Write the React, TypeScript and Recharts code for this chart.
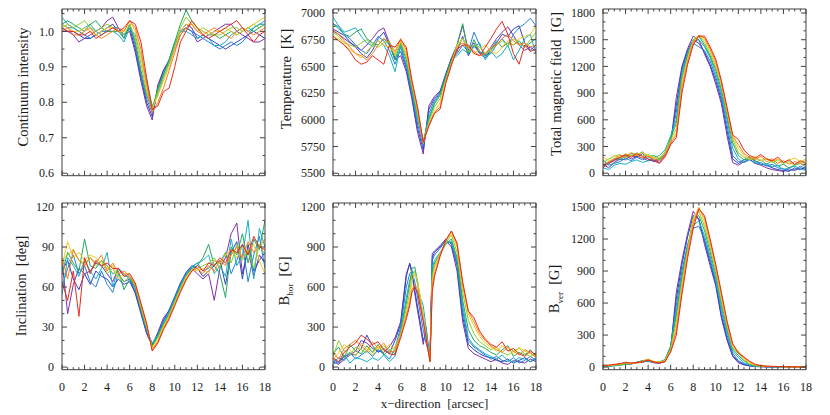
import React from 'react';
import { LineChart, Line, XAxis, YAxis } from 'recharts';

// x positions along the slit [arcsec]
const xGrid = [0, 0.5, 1, 1.5, 2, 2.5, 3, 3.5, 4, 4.5, 5, 5.5, 6, 6.5, 7, 7.5, 8, 8.5, 9, 9.5, 10, 10.5, 11, 11.5, 12, 12.5, 13, 13.5, 14, 14.5, 15, 15.5, 16, 16.5, 17, 17.5, 18];
const xGridHor = [0, 0.5, 1, 1.5, 2, 2.5, 3, 3.5, 4, 4.5, 5, 5.5, 6, 6.5, 6.8, 7, 7.25, 7.5, 7.75, 8, 8.25, 8.6, 8.8, 9, 9.5, 10, 10.5, 11, 11.5, 12, 12.5, 13, 13.5, 14, 14.5, 15, 15.5, 16, 16.5, 17, 17.5, 18];

const seriesColors = ['#7b2fa8', '#2f3fbf', '#1f7fd6', '#18afc4', '#22a85a', '#8ccf2c', '#f0c81e', '#ff7c1a', '#e52a1c'];

const contInt = [
  [1.00, 1.00, 0.99, 0.97, 0.98, 0.99, 1.00, 1.01, 1.03, 1.04, 1.01, 0.99, 1.00, 0.94, 0.86, 0.79, 0.75, 0.85, 0.89, 0.91, 0.95, 0.99, 1.01, 1.00, 0.97, 0.98, 0.99, 1.00, 1.01, 1.02, 1.02, 1.00, 0.99, 0.98, 0.97, 0.97, 0.98],
  [1.01, 1.00, 1.00, 0.99, 0.98, 0.98, 0.99, 1.00, 1.01, 1.02, 1.00, 0.99, 1.01, 0.95, 0.87, 0.80, 0.76, 0.84, 0.89, 0.92, 0.96, 1.00, 1.02, 1.01, 0.98, 0.99, 0.98, 0.97, 0.96, 0.95, 0.96, 0.97, 0.98, 0.99, 1.00, 0.99, 0.98],
  [1.02, 1.01, 1.01, 1.00, 0.99, 0.98, 0.99, 1.00, 1.00, 1.01, 1.01, 0.98, 1.02, 0.96, 0.88, 0.81, 0.77, 0.83, 0.88, 0.92, 0.97, 1.00, 1.01, 1.00, 0.99, 0.98, 0.97, 0.96, 0.95, 0.96, 0.97, 0.96, 0.97, 0.99, 1.01, 1.02, 1.02],
  [1.04, 1.02, 1.01, 1.00, 1.01, 1.02, 1.00, 0.99, 1.00, 1.00, 0.99, 0.97, 1.01, 0.99, 0.93, 0.86, 0.79, 0.82, 0.87, 0.91, 0.96, 1.00, 1.00, 0.99, 0.98, 0.99, 0.98, 0.96, 0.96, 0.97, 0.99, 1.00, 1.01, 1.00, 1.01, 1.02, 1.03],
  [1.02, 1.03, 1.02, 1.01, 1.00, 1.02, 1.03, 1.01, 1.00, 1.00, 1.00, 0.98, 1.02, 0.97, 0.89, 0.82, 0.78, 0.84, 0.88, 0.92, 0.97, 1.02, 1.06, 1.03, 1.01, 1.00, 0.99, 0.99, 0.98, 0.99, 1.00, 0.99, 1.00, 1.01, 1.00, 1.01, 1.02],
  [1.01, 1.02, 1.01, 1.02, 1.03, 1.01, 1.00, 1.01, 1.02, 1.01, 1.00, 0.99, 1.02, 0.98, 0.91, 0.83, 0.78, 0.83, 0.87, 0.91, 0.96, 1.01, 1.04, 1.02, 1.00, 1.01, 1.00, 0.99, 0.99, 1.00, 1.01, 1.01, 1.00, 1.01, 1.02, 1.01, 1.02],
  [1.02, 1.01, 1.00, 1.00, 1.01, 1.00, 0.99, 1.00, 1.01, 1.01, 1.00, 1.00, 1.03, 1.00, 0.93, 0.84, 0.78, 0.82, 0.86, 0.90, 0.95, 1.00, 1.02, 1.02, 1.01, 1.00, 0.99, 1.00, 1.00, 1.01, 1.00, 0.99, 1.00, 1.01, 1.02, 1.03, 1.04],
  [1.00, 1.01, 0.99, 0.99, 1.00, 1.01, 0.99, 0.98, 0.99, 1.00, 1.01, 1.00, 1.03, 1.01, 0.95, 0.85, 0.77, 0.80, 0.84, 0.89, 0.94, 0.99, 1.01, 1.02, 1.00, 0.99, 1.00, 1.01, 1.00, 0.99, 0.98, 1.00, 1.01, 1.00, 0.99, 1.00, 1.01],
  [1.01, 1.00, 1.00, 0.99, 0.99, 1.00, 0.98, 0.99, 1.00, 1.01, 1.00, 1.01, 1.03, 1.02, 0.97, 0.87, 0.78, 0.79, 0.83, 0.84, 0.90, 0.97, 1.00, 1.03, 1.01, 0.99, 0.98, 0.99, 1.00, 1.01, 1.02, 1.03, 1.01, 0.99, 0.97, 0.99, 1.00],
];

const temperature = [
  [6830, 6800, 6760, 6720, 6690, 6650, 6700, 6760, 6830, 6860, 6720, 6560, 6600, 6450, 6190, 5880, 5680, 6130, 6220, 6270, 6430, 6580, 6700, 6880, 6650, 6720, 6630, 6610, 6680, 6760, 6820, 6870, 6790, 6700, 6650, 6680, 6640],
  [6850, 6820, 6790, 6730, 6680, 6620, 6580, 6650, 6760, 6820, 6700, 6580, 6640, 6480, 6220, 5920, 5720, 6100, 6200, 6260, 6420, 6570, 6640, 6780, 6600, 6700, 6620, 6580, 6650, 6720, 6800, 6780, 6850, 6880, 6720, 6650, 6700],
  [6900, 6870, 6800, 6760, 6700, 6650, 6620, 6700, 6780, 6740, 6650, 6520, 6680, 6500, 6250, 5960, 5750, 6060, 6180, 6250, 6410, 6560, 6620, 6700, 6640, 6820, 6700, 6600, 6620, 6700, 6760, 6690, 6800, 6860, 6900, 6950, 6880],
  [6960, 6880, 6820, 6840, 6860, 6780, 6720, 6690, 6740, 6700, 6600, 6450, 6700, 6520, 6270, 6000, 5800, 6020, 6160, 6240, 6400, 6560, 6600, 6660, 6620, 6680, 6720, 6560, 6640, 6580, 6620, 6700, 6560, 6650, 6760, 6800, 6620],
  [6900, 6850, 6800, 6780, 6820, 6850, 6760, 6720, 6700, 6760, 6700, 6560, 6720, 6560, 6300, 6040, 5790, 6000, 6150, 6230, 6400, 6560, 6700, 6900, 6620, 6750, 6640, 6600, 6660, 6740, 6680, 6720, 6700, 6740, 6680, 6720, 6760],
  [6820, 6780, 6720, 6700, 6680, 6720, 6750, 6700, 6680, 6720, 6740, 6600, 6730, 6590, 6320, 6060, 5790, 5980, 6120, 6200, 6380, 6540, 6680, 6760, 6640, 6700, 6680, 6620, 6650, 6700, 6740, 6690, 6760, 6720, 6680, 6750, 6820],
  [6780, 6760, 6700, 6660, 6620, 6580, 6640, 6700, 6740, 6700, 6680, 6620, 6740, 6620, 6340, 6090, 5780, 5960, 6080, 6160, 6360, 6520, 6700, 6760, 6680, 6620, 6660, 6700, 6640, 6620, 6680, 6740, 6700, 6760, 6780, 6800, 6880],
  [6840, 6800, 6740, 6680, 6620, 6600, 6560, 6620, 6700, 6760, 6720, 6640, 6760, 6650, 6350, 6100, 5790, 5950, 6070, 6120, 6350, 6520, 6680, 6720, 6680, 6640, 6600, 6620, 6680, 6700, 6760, 6800, 6740, 6700, 6720, 6680, 6700],
  [6780, 6740, 6700, 6640, 6560, 6520, 6540, 6600, 6560, 6520, 6700, 6680, 6750, 6680, 6370, 6120, 5790, 5940, 6060, 6100, 6340, 6510, 6660, 6700, 6700, 6620, 6600, 6680, 6760, 6850, 6920, 6800, 6620, 6520, 6700, 6640, 6660],
];

const totalField = [
  [80, 120, 150, 170, 200, 160, 190, 170, 140, 150, 120, 200, 330, 850, 1200, 1400, 1540, 1500, 1340, 1200, 1000, 780, 420, 120, 90, 130, 160, 110, 90, 60, 40, 30, 20, 50, 30, 60, 40],
  [100, 60, 120, 160, 150, 200, 180, 220, 160, 130, 150, 210, 360, 760, 1180, 1380, 1500, 1460, 1360, 1220, 1040, 820, 480, 160, 110, 150, 170, 140, 100, 90, 60, 40, 30, 20, 60, 40, 70],
  [150, 90, 110, 130, 170, 140, 180, 150, 190, 140, 160, 230, 380, 680, 1150, 1360, 1460, 1420, 1380, 1260, 1080, 860, 540, 200, 130, 120, 150, 110, 120, 80, 100, 60, 50, 30, 40, 80, 50],
  [60, 40, 90, 110, 100, 130, 150, 120, 140, 170, 200, 260, 420, 600, 1120, 1330, 1480, 1500, 1420, 1300, 1120, 900, 600, 280, 160, 120, 180, 140, 90, 110, 70, 90, 40, 60, 80, 50, 30],
  [140, 100, 170, 150, 190, 220, 200, 240, 180, 200, 160, 220, 400, 560, 1080, 1320, 1500, 1540, 1440, 1320, 1160, 940, 640, 340, 200, 150, 190, 120, 150, 100, 140, 80, 100, 60, 90, 110, 70],
  [120, 160, 190, 210, 170, 200, 230, 190, 210, 180, 150, 240, 380, 500, 1050, 1300, 1500, 1550, 1470, 1350, 1190, 980, 680, 380, 230, 180, 150, 170, 140, 160, 120, 150, 110, 130, 90, 120, 140],
  [180, 140, 200, 170, 220, 190, 210, 230, 200, 170, 180, 220, 360, 460, 1000, 1280, 1480, 1550, 1500, 1380, 1220, 1000, 700, 400, 280, 200, 160, 190, 140, 170, 130, 160, 120, 150, 170, 130, 160],
  [90, 130, 160, 200, 180, 230, 200, 170, 190, 160, 140, 200, 340, 430, 960, 1250, 1460, 1550, 1520, 1400, 1250, 1020, 720, 420, 320, 220, 180, 150, 190, 130, 160, 110, 140, 100, 130, 110, 90],
  [60, 110, 140, 180, 210, 180, 220, 190, 160, 140, 110, 180, 320, 400, 900, 1220, 1440, 1540, 1540, 1420, 1280, 1040, 740, 430, 380, 260, 200, 170, 210, 160, 140, 180, 120, 150, 100, 140, 110],
];

const inclination = [
  [80, 40, 62, 74, 70, 72, 78, 76, 70, 64, 74, 70, 66, 55, 40, 25, 16, 26, 37, 42, 52, 62, 70, 74, 70, 66, 70, 50, 74, 82, 100, 108, 70, 88, 68, 84, 78],
  [72, 80, 66, 58, 70, 62, 72, 68, 66, 60, 66, 62, 64, 56, 41, 26, 17, 25, 35, 43, 53, 63, 71, 76, 74, 68, 72, 76, 80, 62, 86, 94, 66, 92, 72, 80, 86],
  [60, 74, 84, 70, 76, 64, 60, 72, 62, 56, 70, 64, 66, 58, 42, 27, 17, 24, 34, 42, 52, 62, 70, 75, 78, 72, 74, 80, 78, 86, 70, 80, 92, 64, 84, 98, 74],
  [54, 82, 76, 68, 80, 72, 66, 74, 86, 60, 74, 68, 68, 59, 43, 28, 18, 24, 33, 41, 51, 61, 69, 75, 78, 80, 84, 70, 76, 68, 96, 76, 84, 110, 66, 104, 90],
  [70, 86, 78, 72, 96, 76, 74, 80, 76, 70, 72, 58, 66, 60, 44, 29, 16, 23, 32, 40, 50, 60, 68, 74, 76, 82, 92, 76, 70, 52, 90, 84, 100, 78, 96, 88, 110],
  [80, 84, 88, 80, 78, 82, 76, 80, 70, 74, 68, 64, 68, 61, 45, 30, 15, 22, 31, 39, 49, 59, 68, 73, 74, 76, 78, 82, 74, 86, 78, 92, 80, 88, 74, 92, 84],
  [76, 94, 82, 86, 80, 84, 82, 78, 74, 76, 66, 70, 70, 62, 46, 31, 14, 20, 30, 38, 48, 58, 67, 73, 72, 74, 70, 80, 78, 84, 88, 82, 90, 86, 92, 80, 70],
  [82, 66, 88, 80, 76, 82, 78, 84, 72, 78, 70, 72, 68, 62, 47, 32, 13, 19, 29, 37, 47, 57, 66, 72, 74, 70, 76, 72, 80, 76, 84, 90, 82, 94, 86, 90, 96],
  [64, 50, 72, 38, 82, 70, 80, 76, 78, 74, 74, 68, 70, 63, 48, 33, 12, 18, 28, 36, 46, 56, 65, 72, 76, 72, 78, 76, 82, 78, 88, 86, 92, 84, 98, 90, 88],
];

// sampled on xGridHor
const bHor = [
  [40, 20, 60, 90, 120, 200, 180, 140, 120, 110, 150, 220, 340, 700, 770, 700, 550, 420, 300, 170, 300, 50, 820, 860, 900, 950, 900, 720, 340, 140, 100, 80, 60, 40, 60, 30, 20, 50, 40, 30, 60, 40],
  [60, 30, 80, 100, 90, 140, 240, 160, 110, 140, 100, 200, 320, 680, 780, 720, 580, 450, 330, 200, 250, 60, 850, 870, 910, 960, 920, 760, 380, 170, 130, 100, 80, 70, 50, 40, 60, 30, 50, 70, 40, 60],
  [30, 70, 50, 110, 60, 90, 120, 80, 130, 100, 60, 140, 300, 600, 700, 720, 640, 520, 400, 280, 180, 70, 800, 840, 890, 950, 930, 780, 420, 200, 150, 120, 90, 60, 80, 50, 40, 70, 30, 50, 80, 50],
  [20, 40, 90, 30, 70, 60, 40, 70, 50, 90, 40, 80, 270, 520, 650, 700, 720, 620, 520, 460, 300, 60, 750, 800, 860, 930, 940, 800, 460, 220, 160, 130, 100, 80, 60, 90, 50, 40, 70, 60, 40, 70],
  [100, 150, 70, 170, 120, 100, 160, 110, 170, 90, 130, 100, 260, 480, 620, 740, 750, 640, 500, 380, 260, 50, 700, 780, 850, 920, 960, 820, 500, 280, 200, 160, 140, 110, 90, 130, 160, 80, 110, 90, 130, 80],
  [80, 200, 120, 90, 150, 130, 110, 150, 130, 160, 120, 150, 250, 440, 560, 690, 720, 640, 510, 380, 250, 40, 680, 760, 850, 930, 990, 860, 560, 350, 250, 190, 160, 130, 150, 110, 90, 120, 140, 100, 80, 110],
  [50, 110, 170, 130, 80, 180, 140, 90, 160, 120, 170, 130, 240, 400, 520, 640, 700, 650, 520, 390, 240, 40, 640, 740, 850, 940, 1010, 900, 600, 400, 310, 230, 180, 150, 120, 160, 130, 100, 150, 120, 100, 80],
  [110, 60, 140, 170, 200, 160, 120, 190, 140, 180, 110, 120, 230, 380, 480, 580, 620, 580, 470, 360, 230, 50, 600, 700, 840, 950, 1020, 920, 620, 420, 340, 250, 200, 160, 130, 110, 150, 120, 90, 130, 110, 70],
  [70, 40, 110, 150, 180, 240, 210, 170, 190, 130, 100, 90, 220, 360, 460, 560, 600, 560, 450, 340, 220, 40, 560, 680, 830, 950, 1020, 930, 640, 420, 370, 270, 210, 170, 150, 190, 120, 140, 100, 80, 120, 90],
];

const bVer = [
  [10, 15, 20, 30, 35, 30, 40, 45, 60, 40, 35, 50, 170, 700, 1000, 1250, 1460, 1380, 1150, 950, 760, 460, 250, 100, 40, 20, 10, 5, 3, 2, 2, 1, 1, 1, 1, 1, 1],
  [15, 10, 15, 25, 30, 35, 45, 50, 55, 45, 40, 60, 180, 640, 960, 1220, 1420, 1390, 1180, 980, 780, 480, 270, 110, 50, 25, 12, 6, 4, 3, 2, 2, 1, 1, 1, 1, 1],
  [20, 15, 10, 20, 25, 30, 40, 55, 50, 50, 45, 65, 190, 580, 900, 1150, 1300, 1320, 1200, 1010, 800, 520, 300, 130, 60, 30, 15, 8, 5, 3, 2, 2, 2, 1, 1, 1, 1],
  [10, 10, 15, 20, 25, 35, 45, 60, 65, 45, 50, 70, 200, 520, 860, 1120, 1330, 1370, 1230, 1040, 830, 560, 330, 150, 90, 40, 20, 10, 6, 4, 3, 2, 2, 2, 1, 1, 1],
  [5, 10, 15, 20, 25, 30, 45, 60, 70, 45, 40, 70, 190, 480, 840, 1120, 1380, 1420, 1280, 1080, 870, 600, 360, 170, 110, 60, 25, 12, 7, 5, 4, 3, 3, 2, 1, 1, 1],
  [10, 12, 18, 22, 30, 35, 40, 55, 60, 50, 45, 65, 170, 420, 800, 1100, 1400, 1460, 1320, 1120, 900, 620, 380, 180, 130, 70, 30, 15, 8, 6, 5, 4, 3, 2, 2, 1, 1],
  [15, 18, 20, 28, 40, 32, 38, 55, 75, 55, 45, 60, 160, 380, 760, 1080, 1380, 1500, 1360, 1150, 920, 650, 400, 190, 150, 80, 40, 18, 10, 7, 5, 4, 3, 2, 2, 1, 1],
  [12, 15, 22, 30, 42, 35, 40, 50, 70, 50, 40, 55, 150, 340, 720, 1050, 1340, 1490, 1400, 1180, 950, 680, 420, 210, 140, 90, 50, 22, 12, 8, 6, 5, 4, 3, 2, 2, 1],
  [15, 18, 25, 32, 45, 38, 42, 50, 65, 48, 38, 50, 140, 300, 680, 1020, 1300, 1480, 1420, 1200, 960, 700, 430, 220, 130, 95, 55, 25, 14, 9, 7, 5, 4, 3, 2, 2, 1],
];

// tick values
const xMajor = [0, 2, 4, 6, 8, 10, 12, 14, 16, 18];
const contMajor = [0.6, 0.7, 0.8, 0.9, 1.0];
const contTicks = [0.6, 0.65, 0.7, 0.75, 0.8, 0.85, 0.9, 0.95, 1.0, 1.05];
const tempMajor = [5500, 5750, 6000, 6250, 6500, 6750, 7000];
const tempTicks = [5500, 5625, 5750, 5875, 6000, 6125, 6250, 6375, 6500, 6625, 6750, 6875, 7000];
const fieldMajor = [0, 300, 600, 900, 1200, 1500, 1800];
const fieldTicks = [0, 100, 200, 300, 400, 500, 600, 700, 800, 900, 1000, 1100, 1200, 1300, 1400, 1500, 1600, 1700, 1800];
const incMajor = [0, 30, 60, 90, 120];
const incTicks = [0, 10, 20, 30, 40, 50, 60, 70, 80, 90, 100, 110, 120];
const horMajor = [0, 300, 600, 900, 1200];
const horTicks = [0, 100, 200, 300, 400, 500, 600, 700, 800, 900, 1000, 1100, 1200];
const verMajor = [0, 300, 600, 900, 1200, 1500];
const verTicks = [0, 100, 200, 300, 400, 500, 600, 700, 800, 900, 1000, 1100, 1200, 1300, 1400, 1500];

const FONT = '"Liberation Serif", "Times New Roman", serif';
const FRAME = '#404040';
const INK = '#1a1a1a';
const PLOT_W = 203;
const PLOT_H = 166.7;
// axes are 1px thick boxes (a zero-size axis is not drawn), so margins are 1px smaller
const M = { top: 5, right: 7, bottom: 27, left: 59 };

const makeTick = (side: string, majors: number[], labelled: boolean, digits: number) => (props: any) => {
  const { x, y, payload } = props;
  const v = payload.value;
  const major = majors.some((m) => Math.abs(m - v) < 1e-6);
  const len = major ? 5 : 2.5;
  let x2 = x;
  let y2 = y;
  if (side === 'left') x2 = x + len;
  if (side === 'right') x2 = x - len;
  if (side === 'bottom') y2 = y - len;
  if (side === 'top') y2 = y + len;
  return (
    <g>
      <line x1={x} y1={y} x2={x2} y2={y2} stroke={FRAME} strokeWidth={1} />
      {labelled && major && side === 'left' && (
        <text x={x - 8} y={y} dy="0.35em" textAnchor="end" fontFamily={FONT} fontSize={12} fill={INK}>
          {v.toFixed(digits)}
        </text>
      )}
      {labelled && major && side === 'bottom' && (
        <text x={x} y={y + 17} dy="0.35em" textAnchor="middle" fontFamily={FONT} fontSize={12} fill={INK}>
          {v.toFixed(digits)}
        </text>
      )}
    </g>
  );
};

type PanelSpec = {
  left: number;
  top: number;
  xs: number[];
  series: number[][];
  domain: [number, number];
  yTicks: number[];
  yMajor: number[];
  digits: number;
  xLabels: boolean;
};

const Panel = ({ spec }: { spec: PanelSpec }) => {
  const rows = spec.xs.map((x, i) => {
    const r: any = { x };
    spec.series.forEach((s, k) => {
      r['s' + k] = s[i];
    });
    return r;
  });
  const axisLine = { stroke: FRAME, strokeWidth: 1 };
  return (
    <div style={{ position: 'absolute', left: spec.left - M.left - 1, top: spec.top - M.top - 1 }}>
      <LineChart width={PLOT_W + M.left + M.right + 2} height={PLOT_H + M.top + M.bottom + 2} data={rows} margin={M}>
        <XAxis xAxisId="b" dataKey="x" type="number" orientation="bottom" domain={[0, 18]} allowDataOverflow
          ticks={xGrid} interval={0} height={1} tickSize={0} tickMargin={0} tickLine={false} axisLine={axisLine}
          tick={makeTick('bottom', xMajor, spec.xLabels, 0)} />
        <XAxis xAxisId="t" dataKey="x" type="number" orientation="top" domain={[0, 18]} allowDataOverflow
          ticks={xGrid} interval={0} height={1} tickSize={0} tickMargin={0} tickLine={false} axisLine={axisLine}
          tick={makeTick('top', xMajor, false, 0)} />
        <YAxis yAxisId="l" type="number" orientation="left" domain={spec.domain} allowDataOverflow
          ticks={spec.yTicks} interval={0} width={1} tickSize={0} tickMargin={0} tickLine={false} axisLine={axisLine}
          tick={makeTick('left', spec.yMajor, true, spec.digits)} />
        <YAxis yAxisId="r" type="number" orientation="right" domain={spec.domain} allowDataOverflow
          ticks={spec.yTicks} interval={0} width={1} tickSize={0} tickMargin={0} tickLine={false} axisLine={axisLine}
          tick={makeTick('right', spec.yMajor, false, spec.digits)} />
        {spec.series.map((_, k) => (
          <Line key={k} xAxisId="b" yAxisId="l" type="linear" dataKey={'s' + k} stroke={seriesColors[k]}
            strokeWidth={1} dot={false} activeDot={false} isAnimationActive={false} />
        ))}
      </LineChart>
    </div>
  );
};

const YTitle = ({ cx, cy, children }: { cx: number; cy: number; children: React.ReactNode }) => (
  <div
    style={{
      position: 'absolute',
      left: cx,
      top: cy,
      transform: 'translate(-50%, -50%) rotate(-90deg)',
      whiteSpace: 'pre',
      fontFamily: FONT,
      fontSize: 14.5,
      lineHeight: 1,
      color: INK,
    }}
  >
    {children}
  </div>
);

const sub = { fontSize: 9, verticalAlign: 'sub' as const };

export default function App() {
  const colL = [62.3, 332.7, 603.3];
  const rowT = [9.3, 202.7];
  const panels: PanelSpec[] = [
    { left: colL[0], top: rowT[0], xs: xGrid, series: contInt, domain: [0.593, 1.063], yTicks: contTicks, yMajor: contMajor, digits: 1, xLabels: false },
    { left: colL[1], top: rowT[0], xs: xGrid, series: temperature, domain: [5477, 7037], yTicks: tempTicks, yMajor: tempMajor, digits: 0, xLabels: false },
    { left: colL[2], top: rowT[0], xs: xGrid, series: totalField, domain: [-28, 1845], yTicks: fieldTicks, yMajor: fieldMajor, digits: 0, xLabels: false },
    { left: colL[0], top: rowT[1], xs: xGrid, series: inclination, domain: [-1.95, 123], yTicks: incTicks, yMajor: incMajor, digits: 0, xLabels: true },
    { left: colL[1], top: rowT[1], xs: xGridHor, series: bHor, domain: [-19.5, 1230], yTicks: horTicks, yMajor: horMajor, digits: 0, xLabels: true },
    { left: colL[2], top: rowT[1], xs: xGrid, series: bVer, domain: [-24.4, 1537.5], yTicks: verTicks, yMajor: verMajor, digits: 0, xLabels: true },
  ];
  return (
    <div style={{ position: 'absolute', left: 0, top: 0, width: 830, height: 415, background: '#fff', overflow: 'hidden' }}>
      {panels.map((p, i) => (
        <Panel key={i} spec={p} />
      ))}
      <YTitle cx={23} cy={87}>Continuum intensity</YTitle>
      <YTitle cx={286} cy={79}>{'Temperature  [K]'}</YTitle>
      <YTitle cx={556} cy={84}>{'Total magnetic field  [G]'}</YTitle>
      <YTitle cx={21} cy={286}>{'Inclination  [deg]'}</YTitle>
      <YTitle cx={286} cy={281}>
        B<span style={sub}>hor</span>{'  [G]'}
      </YTitle>
      <YTitle cx={556} cy={289}>
        B<span style={sub}>ver</span>{'  [G]'}
      </YTitle>
      <div
        style={{
          position: 'absolute',
          left: 434.5,
          top: 403,
          transform: 'translate(-50%, -50%)',
          whiteSpace: 'pre',
          fontFamily: FONT,
          fontSize: 13,
          lineHeight: 1,
          color: INK,
        }}
      >
        {'x\u2212direction  [arcsec]'}
      </div>
    </div>
  );
}
